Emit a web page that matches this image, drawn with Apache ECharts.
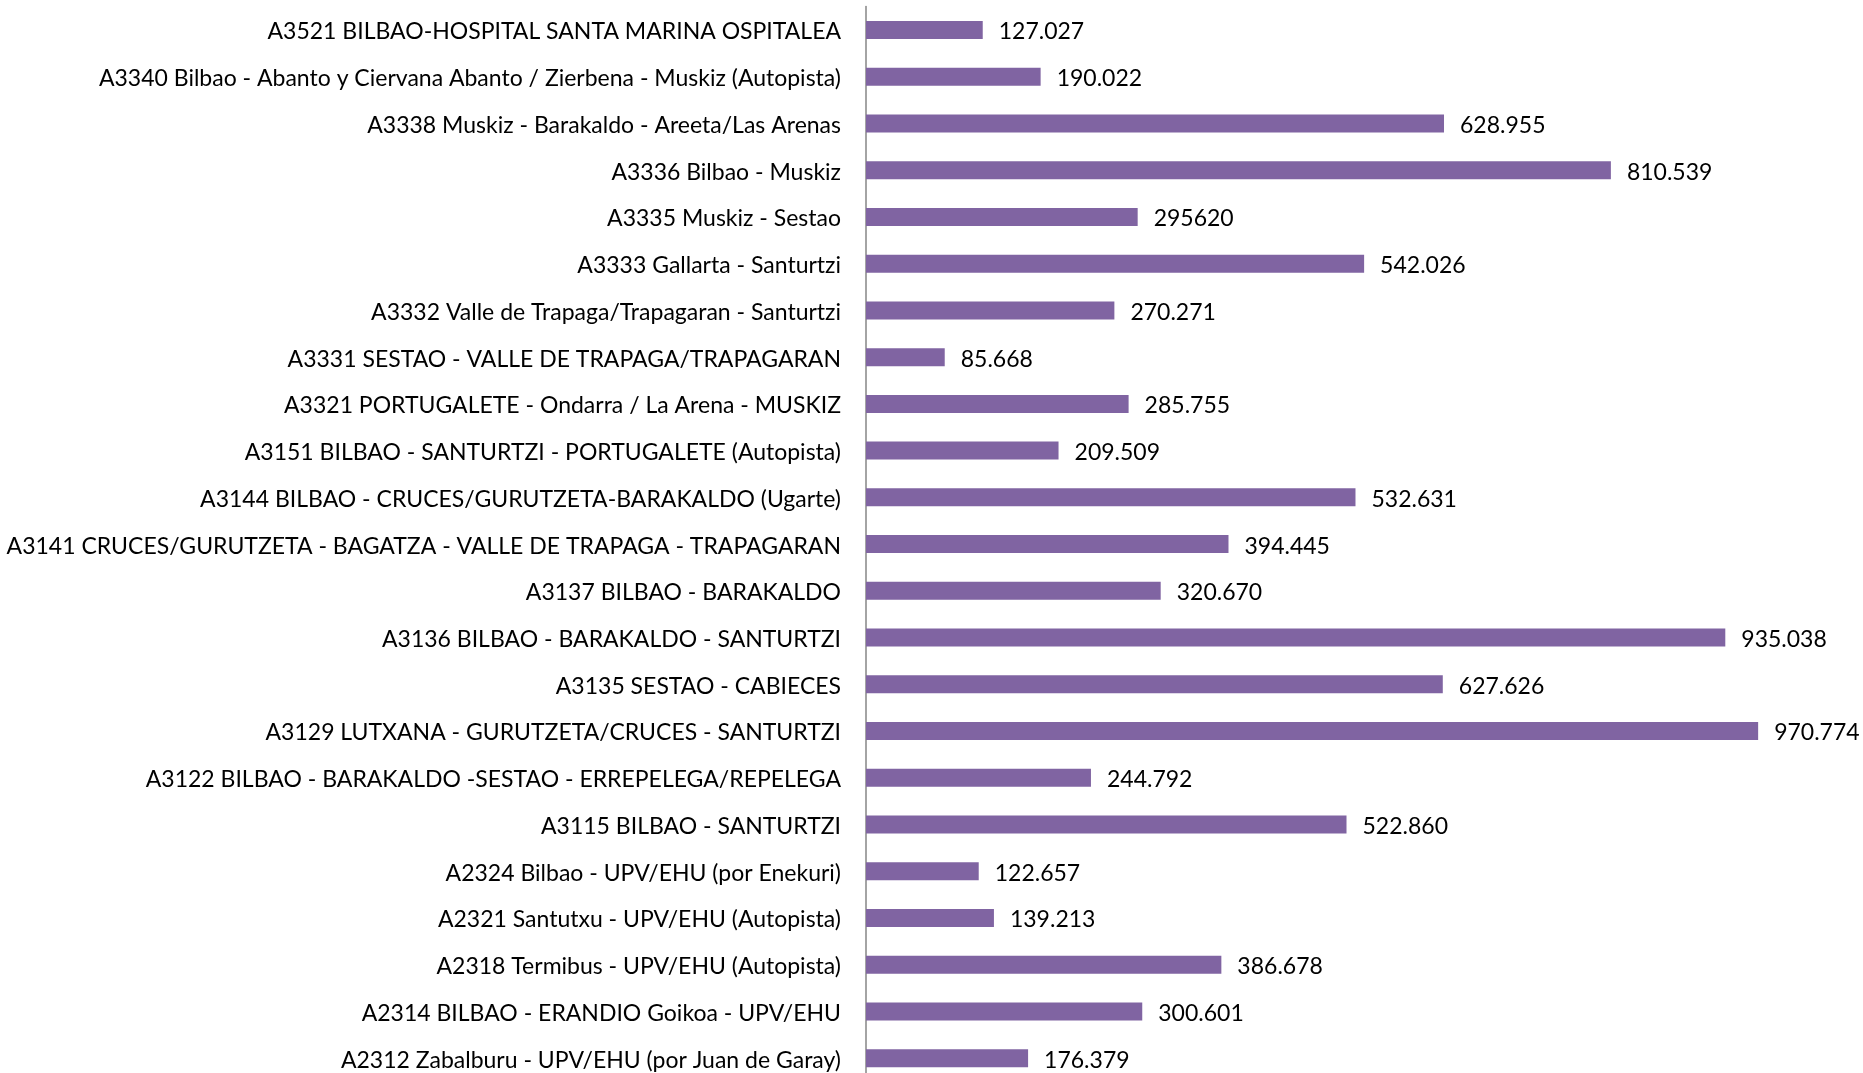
<!DOCTYPE html>
<html>
<head>
    <meta charset="utf-8">
    <title>ECharts</title>
    <script src="https://cdn.jsdelivr.net/npm/echarts@6/dist/echarts.min.js"></script>
    <style>
        *{
            margin: 0;
            padding: 0;
        }
        html,body{
            width: 100%;
            height: 100%;
            overflow: hidden;
            background: #fff;
        }
        .container{
            width: 1863px;
            height: 1090px;
        }
    </style>
</head>
<body>
<div class="container"></div>

<script>
    // lineas, de arriba a abajo
    let lineas = [
        'A3521 BILBAO-HOSPITAL SANTA MARINA OSPITALEA',
        'A3340 Bilbao - Abanto y Ciervana Abanto / Zierbena - Muskiz (Autopista)',
        'A3338 Muskiz - Barakaldo - Areeta/Las Arenas',
        'A3336 Bilbao - Muskiz',
        'A3335 Muskiz - Sestao',
        'A3333 Gallarta - Santurtzi',
        'A3332 Valle de Trapaga/Trapagaran - Santurtzi',
        'A3331 SESTAO - VALLE DE TRAPAGA/TRAPAGARAN',
        'A3321 PORTUGALETE - Ondarra / La Arena - MUSKIZ',
        'A3151 BILBAO - SANTURTZI - PORTUGALETE (Autopista)',
        'A3144 BILBAO - CRUCES/GURUTZETA-BARAKALDO (Ugarte)',
        'A3141 CRUCES/GURUTZETA - BAGATZA - VALLE DE TRAPAGA - TRAPAGARAN',
        'A3137 BILBAO - BARAKALDO',
        'A3136 BILBAO - BARAKALDO - SANTURTZI',
        'A3135 SESTAO - CABIECES',
        'A3129 LUTXANA - GURUTZETA/CRUCES - SANTURTZI',
        'A3122 BILBAO - BARAKALDO -SESTAO - ERREPELEGA/REPELEGA',
        'A3115 BILBAO - SANTURTZI',
        'A2324 Bilbao - UPV/EHU (por Enekuri)',
        'A2321 Santutxu - UPV/EHU (Autopista)',
        'A2318 Termibus - UPV/EHU (Autopista)',
        'A2314 BILBAO - ERANDIO Goikoa - UPV/EHU',
        'A2312 Zabalburu - UPV/EHU (por Juan de Garay)'
    ];
    let viajeros = [
        127027, 190022, 628955, 810539, 295620, 542026, 270271, 85668,
        285755, 209509, 532631, 394445, 320670, 935038, 627626, 970774,
        244792, 522860, 122657, 139213, 386678, 300601, 176379
    ];
    // etiquetas tal como aparecen
    let etiquetas = [
        '127.027', '190.022', '628.955', '810.539', '295620', '542.026', '270.271', '85.668',
        '285.755', '209.509', '532.631', '394.445', '320.670', '935.038', '627.626', '970.774',
        '244.792', '522.860', '122.657', '139.213', '386.678', '300.601', '176.379'
    ];

    let chart = echarts.init(document.getElementsByClassName('container')[0]);
    let fuente = 'Lato';

    let option = {
        animation: false,
        grid: {
            left: 866,
            top: 6.6,
            width: 919,
            height: 1075
        },
        xAxis: {
            type: 'value',
            min: 0,
            max: 1000000,
            show: false
        },
        yAxis: {
            type: 'category',
            data: lineas,
            inverse: true,
            axisLine: {
                show: true,
                lineStyle: {color: '#868686', width: 1.5}
            },
            axisTick: {show: false},
            axisLabel: {
                margin: 25,
                color: '#000',
                fontFamily: fuente,
                fontSize: 23,
                formatter: v => '{t|' + v + '}',
                rich: {
                    t: {
                        color: '#000',
                        fontFamily: fuente,
                        fontSize: 23,
                        padding: [4, 0, 0, 0]
                    }
                }
            }
        },
        series: [{
            type: 'bar',
            data: viajeros,
            barWidth: 18,
            itemStyle: {color: '#8064A2'},
            label: {
                show: true,
                position: 'right',
                distance: 16,
                offset: [0, 2],
                color: '#000',
                fontFamily: fuente,
                fontSize: 23,
                formatter: p => etiquetas[p.dataIndex]
            }
        }]
    };
    chart.setOption(option);
</script>
</body>
</html>
